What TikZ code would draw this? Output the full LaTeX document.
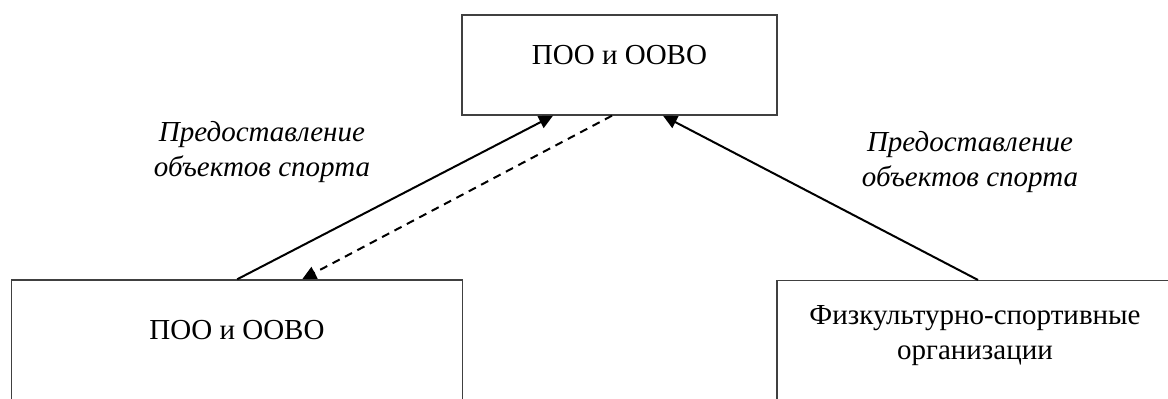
\documentclass[tikz,border=0pt]{standalone}
\usepackage{fontspec}
\setmainfont{Liberation Serif}
\usetikzlibrary{positioning, arrows.meta, calc}
\tikzset{
  >={Triangle[length=7pt,width=6.5pt]},
  every node/.style={font=\fontsize{14.5}{17.5}\selectfont},
  box/.style={draw=black!75, line width=0.7pt, rectangle, inner sep=0pt},
  note/.style={font=\fontsize{14.5}{17.5}\selectfont\itshape, align=center, anchor=base},
  link/.style={->, line width=1pt},
}

\begin{document}
\begin{tikzpicture}[x=0.5pt, y=-0.5pt]
      \useasboundingbox (0,0) rectangle (1168,399);
      \clip (0,0) rectangle (1168,399);

      \node[box, minimum width=157.5pt, minimum height=50pt]  (top)   at (619.5,65)  {};
      \node[box, minimum width=225.5pt, minimum height=80pt]  (left)  at (237.2,360) {};
      \node[box, minimum width=198pt,   minimum height=80pt]  (right) at (975,360.7) {};

      \node[anchor=base]               (toptext)   at (619.5,65)  {ПОО и ООВО};
      \node[anchor=base]               (lefttext)  at (237,340)   {ПОО и ООВО};
      \node[anchor=base, align=center] (righttext) at (975,360)   {Физкультурно-спортивные\\организации};

      \node[note] (leftnote)  at (262,177) {Предоставление\\объектов спорта};
      \node[note] (rightnote) at (970,187) {Предоставление\\объектов спорта};

      \draw[link]         (left.north)                  -- ($(top.south)+(-66.5,0)$);
      \draw[link, dashed, dash pattern=on 4pt off 3pt]
                          ($(top.south)+(-7.5,0)$)      -- ($(left.north)+(65,0)$);
      \draw[link]         ($(right.north)+(3,0)$)       -- ($(top.south)+(43.5,0)$);
\end{tikzpicture}
\end{document}
